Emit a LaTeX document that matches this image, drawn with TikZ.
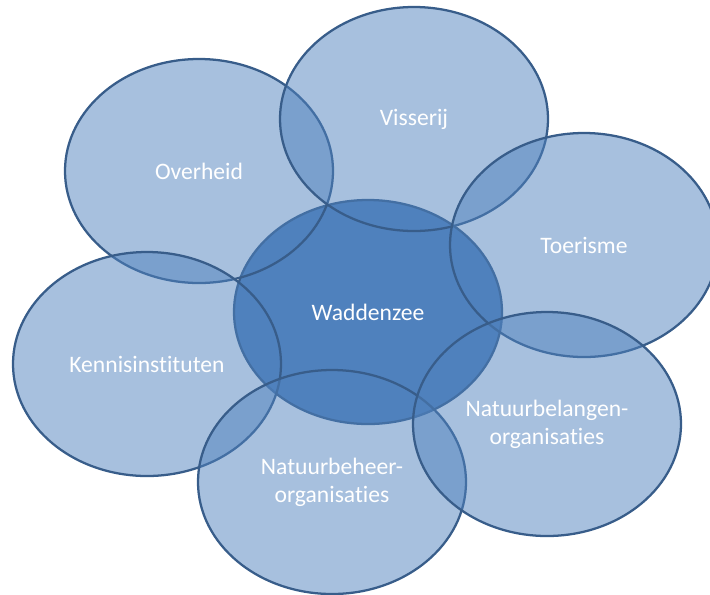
\documentclass[tikz,border=0pt]{standalone}
\usepackage{fontspec}
\setmainfont{Carlito}[Ligatures=NoCommon]
\usetikzlibrary{shapes.geometric}
\definecolor{waddenblue}{HTML}{4F81BD}
\definecolor{waddenline}{HTML}{385D8A}
\begin{document}
\begin{tikzpicture}[x=0.75pt, y=-0.75pt]
\useasboundingbox (0,0) rectangle (710,594);
\clip (0,0) rectangle (710,594);
\tikzset{every node/.style={ellipse, draw=waddenline, line width=1.7pt, minimum width=201pt, minimum height=168pt, inner sep=0pt, text=white, align=center, font=\fontsize{17.7}{21}\selectfont}}
\tikzset{mystyle/.style={fill=waddenblue}}
\node[mystyle] (wz) at (368,312) {Waddenzee};

\tikzset{mystyle/.style={fill=waddenblue, fill opacity=0.5, text opacity=1}}
\node[mystyle] (ov) at (199,171) {Overheid};
\node[mystyle] (vi) at (414,119) {Visserij};
\node[mystyle] (to) at (584,245) {Toerisme};
\node[mystyle] (ki) at (147,364) {Kennisinstituten};
\node[mystyle] (nh) at (332,482) {Natuurbeheer-\\organisaties};
\node[mystyle] (nb) at (547,424) {Natuurbelangen-\\organisaties};
\end{tikzpicture}
\end{document}
